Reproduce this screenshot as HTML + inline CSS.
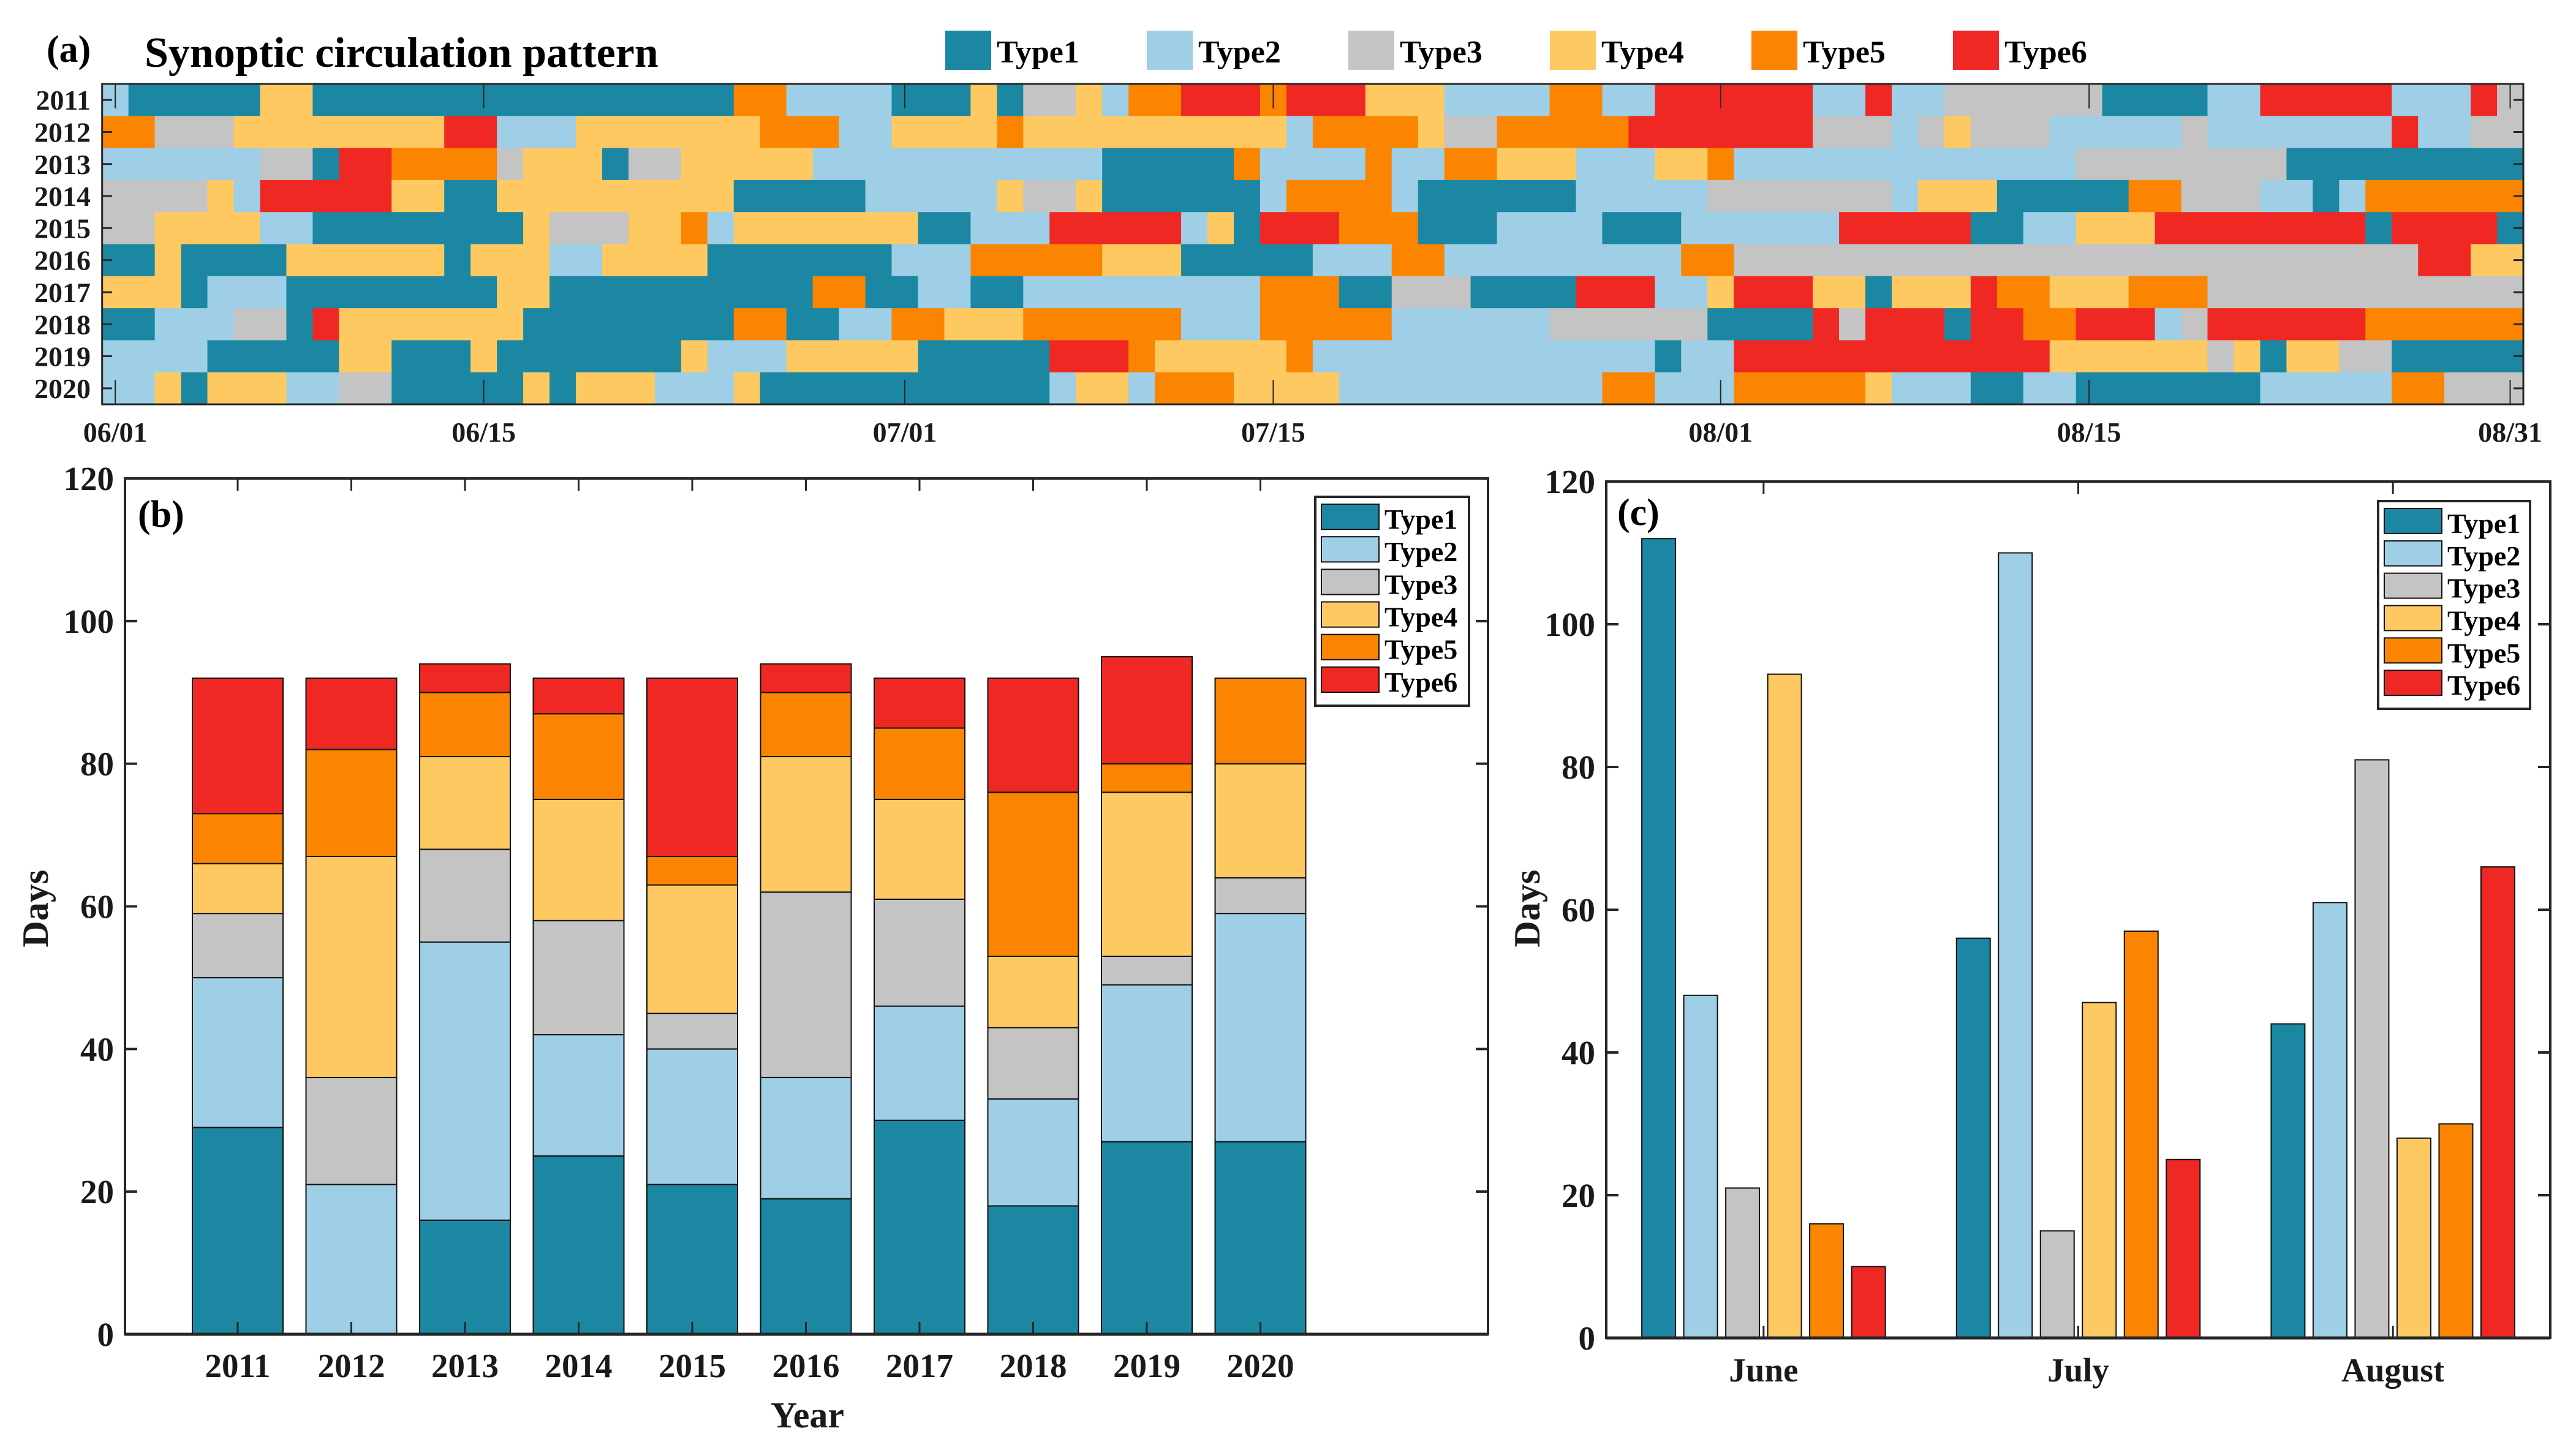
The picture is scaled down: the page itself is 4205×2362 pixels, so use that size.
<!DOCTYPE html>
<html><head><meta charset="utf-8"><style>
html,body{margin:0;padding:0;background:#fff;}
svg{display:block;font-family:"Liberation Serif",serif;font-weight:bold;}
</style></head><body>
<svg id="fig" width="4205" height="2362" viewBox="0 0 4205 2362" xmlns="http://www.w3.org/2000/svg">
<rect x="0" y="0" width="4205" height="2362" fill="#fff"/>
</svg>
<script>
// ---------- data ----------
const typeNames = ["Type1","Type2","Type3","Type4","Type5","Type6"];
const years = [2011,2012,2013,2014,2015,2016,2017,2018,2019,2020];
const dateTickDays = [0,14,30,44,61,75,91];
const dateTickLabels = ["06/01","06/15","07/01","07/15","08/01","08/15","08/31"];
// run-length encoded daily types [type, days] for each year (Jun 1 - Aug 31)
const runs2011 = [[2,1],[1,5],[4,2],[1,16],[5,2],[2,4],[1,3],[4,1],[1,1],[3,2],[4,1],[2,1],[5,2],[6,3],[5,1],[6,3],[4,3],[2,4],[5,2],[2,2],[6,6],[2,2],[6,1],[2,2],[3,6],[1,4],[2,2],[6,5],[2,3],[6,1],[3,1]];
const runs2012 = [[5,2],[3,3],[4,8],[6,2],[2,3],[4,7],[5,3],[2,2],[4,4],[5,1],[4,10],[2,1],[5,4],[4,1],[3,2],[5,5],[6,7],[3,3],[2,1],[3,1],[4,1],[3,3],[2,5],[3,1],[2,7],[6,1],[2,2],[3,2]];
const runs2013 = [[2,6],[3,2],[1,1],[6,2],[5,4],[3,1],[4,3],[1,1],[3,2],[4,5],[2,11],[1,5],[5,1],[2,4],[5,1],[2,2],[5,2],[4,3],[2,3],[4,2],[5,1],[2,13],[3,8],[1,9]];
const runs2014 = [[3,4],[4,1],[2,1],[6,5],[4,2],[1,2],[4,9],[1,5],[2,5],[4,1],[3,2],[4,1],[1,6],[2,1],[5,4],[2,1],[1,6],[2,5],[3,7],[2,1],[4,3],[1,5],[5,2],[3,3],[2,2],[1,1],[2,1],[5,6]];
const runs2015 = [[3,2],[4,4],[2,2],[1,8],[4,1],[3,3],[4,2],[5,1],[2,1],[4,7],[1,2],[2,3],[6,5],[2,1],[4,1],[1,1],[6,3],[5,3],[1,3],[2,4],[1,3],[2,6],[6,5],[1,2],[2,2],[4,3],[6,8],[1,1],[6,4],[1,1]];
const runs2016 = [[1,2],[4,1],[1,4],[4,6],[1,1],[4,3],[2,2],[4,4],[1,7],[2,3],[5,5],[4,3],[1,5],[2,3],[5,2],[2,9],[5,2],[3,26],[6,2],[4,2]];
const runs2017 = [[4,3],[1,1],[2,3],[1,8],[4,2],[1,10],[5,2],[1,2],[2,2],[1,2],[2,9],[5,3],[1,2],[3,3],[1,4],[6,3],[2,2],[4,1],[6,3],[4,2],[1,1],[4,3],[6,1],[5,2],[4,3],[5,3],[3,12]];
const runs2018 = [[1,2],[2,3],[3,2],[1,1],[6,1],[4,7],[1,8],[5,2],[1,2],[2,2],[5,2],[4,3],[5,6],[2,3],[5,5],[2,6],[3,6],[1,4],[6,1],[3,1],[6,3],[1,1],[6,2],[5,2],[6,3],[2,1],[3,1],[6,6],[5,6]];
const runs2019 = [[2,4],[1,5],[4,2],[1,3],[4,1],[1,7],[4,1],[2,3],[4,5],[1,5],[6,3],[5,1],[4,5],[5,1],[2,13],[1,1],[2,2],[6,12],[4,6],[3,1],[4,1],[1,1],[4,2],[3,2],[1,5]];
const runs2020 = [[2,2],[4,1],[1,1],[4,3],[2,2],[3,2],[1,5],[4,1],[1,1],[4,3],[2,3],[4,1],[1,11],[2,1],[4,2],[2,1],[5,3],[4,4],[2,10],[5,2],[2,3],[5,5],[4,1],[2,3],[1,2],[2,2],[1,7],[2,5],[5,2],[3,3]];
const yearRuns = [runs2011,runs2012,runs2013,runs2014,runs2015,runs2016,runs2017,runs2018,runs2019,runs2020];
// panel b: days per type per year
const bType1 = [29,0,16,25,21,19,30,18,27,27];
const bType2 = [21,21,39,17,19,17,16,15,22,32];
const bType3 = [9,15,13,16,5,26,15,10,4,5];
const bType4 = [7,31,13,17,18,19,14,10,23,16];
const bType5 = [7,15,9,12,4,9,10,23,4,12];
const bType6 = [19,10,4,5,25,4,7,16,15,0];
const bSeries = [bType1,bType2,bType3,bType4,bType5,bType6];
const yTicks = [0,20,40,60,80,100,120];
// panel c: days per type per month
const months = ["June","July","August"];
const cType1 = [112,56,44];
const cType2 = [48,110,61];
const cType3 = [21,15,81];
const cType4 = [93,47,28];
const cType5 = [16,57,30];
const cType6 = [10,25,66];
const cSeries = [cType1,cType2,cType3,cType4,cType5,cType6];

const colors = ["#1b87a3","#9ecfe7","#c4c4c4","#fec961","#fb8500","#f02824"];
const NS = "http://www.w3.org/2000/svg";
const svg = document.getElementById("fig");
function mk(tag, attrs, parent){
  const e = document.createElementNS(NS, tag);
  for (const k in attrs) e.setAttribute(k, attrs[k]);
  (parent||svg).appendChild(e);
  return e;
}
function txt(s, attrs, parent){ const e = mk("text", attrs, parent); e.textContent = s; return e; }

// ---------- panel a ----------
const aX0 = 166.7, aCell = 42.96, aY0 = 137, aRow = 52.3, aDays = 92;
const ax = d => aX0 + d*aCell;
const ay = r => aY0 + r*aRow;
const gA = mk("g", {});


yearRuns.forEach((runs, r) => {
  let d = 0;
  runs.forEach(([t, n]) => {
    const c = mk("rect", {x: ax(d), y: ay(r), width: n*aCell+0.6, height: aRow+0.6, fill: colors[t-1]}, gA);
    
    
    d += n;
  });
});
const aFrame = mk("rect", {x: aX0, y: aY0, width: aDays*aCell, height: 10*aRow, fill: "none", stroke: "#262626", "stroke-width": 3});


years.forEach((yr, r) => {
  const cy = ay(r) + aRow/2;
  mk("line", {x1: aX0, x2: aX0+16, y1: cy, y2: cy, stroke: "#262626", "stroke-width": 3});
  mk("line", {x1: aX0+aDays*aCell-16, x2: aX0+aDays*aCell, y1: cy, y2: cy, stroke: "#262626", "stroke-width": 3});
  const t = txt(String(yr), {x: 148, y: cy+16, "font-size": 46, "text-anchor": "end", fill: "#1a1a1a"});
  
  
});
dateTickDays.forEach((d, i) => {
  const cx = ax(d) + aCell/2;
  mk("line", {x1: cx, x2: cx, y1: aY0, y2: aY0+40, stroke: "#262626", "stroke-width": 2});
  mk("line", {x1: cx, x2: cx, y1: aY0+10*aRow-40, y2: aY0+10*aRow, stroke: "#262626", "stroke-width": 2});
  const t = txt(dateTickLabels[i], {x: cx, y: 721, "font-size": 46, "text-anchor": "middle", fill: "#1a1a1a"});
  
  
});
const aLab = txt("(a)", {x: 76, y: 101, "font-size": 62, fill: "#000"});


const aTitle = txt("Synoptic circulation pattern", {x: 236, y: 109, "font-size": 70, fill: "#000"});


// top legend
typeNames.forEach((nm, i) => {
  const lx = 1543 + i*329;
  const g = mk("g", {});
  
  
  mk("rect", {x: lx, y: 50, width: 75, height: 64, fill: colors[i]}, g);
  txt(nm, {x: lx+84, y: 102, "font-size": 52, fill: "#000"}, g);
});

// ---------- axis helper ----------
function axes(L, R, T, B, yScale, name){
  const g = mk("g", {});
  
  
  mk("rect", {x: L, y: T, width: R-L, height: B-T, fill: "none", stroke: "#262626", "stroke-width": 4}, g);
  yTicks.forEach(v => {
    const y = yScale(v);
    mk("line", {x1: L, x2: L+20, y1: y, y2: y, stroke: "#262626", "stroke-width": 4}, g);
    mk("line", {x1: R-20, x2: R, y1: y, y2: y, stroke: "#262626", "stroke-width": 4}, g);
    const t = txt(String(v), {x: L-18, y: y+19, "font-size": 55, "text-anchor": "end", fill: "#1a1a1a"}, g);
    
    
  });
  return g;
}
function legend(x, y, w, h, name){
  const g = mk("g", {});
  
  
  mk("rect", {x: x, y: y, width: w, height: h, fill: "#fff", stroke: "#262626", "stroke-width": 4}, g);
  const step = (h-22)/6;
  typeNames.forEach((nm, i) => {
    const e = mk("g", {}, g);
    
    
    mk("rect", {x: x+10, y: y+12+i*step, width: 94, height: step-12, fill: colors[i], stroke: "#111", "stroke-width": 2}, e);
    txt(nm, {x: x+113, y: y+12+i*step+40, "font-size": 46, fill: "#000"}, e);
  });
}

// ---------- panel b ----------
const bL = 204, bR = 2429, bT = 781, bB = 2178;
const bx = yr => 202.5 + (yr-2010)*185.5;
const by = v => bB - v*(bB-bT)/120;
axes(bL, bR, bT, bB, by, "panel-b-axes");
years.forEach((yr, i) => {
  let acc = 0;
  bSeries.forEach((s, k) => {
    const v = s[i];
    if (v > 0) {
      const r = mk("rect", {x: bx(yr)-74, y: by(acc+v), width: 148, height: by(acc)-by(acc+v), fill: colors[k], stroke: "#111", "stroke-width": 2});
      
      
    }
    acc += v;
  });
});
years.forEach(yr => {
  mk("line", {x1: bx(yr), x2: bx(yr), y1: bB, y2: bB-20, stroke: "#262626", "stroke-width": 3});
  mk("line", {x1: bx(yr), x2: bx(yr), y1: bT, y2: bT+20, stroke: "#262626", "stroke-width": 3});
  const t = txt(String(yr), {x: bx(yr), y: 2248, "font-size": 55, "text-anchor": "middle", fill: "#1a1a1a"});
  
  
});
mk("line", {x1: bL, x2: bR, y1: bB, y2: bB, stroke: "#262626", "stroke-width": 5});
const bXT = txt("Year", {x: 1318, y: 2330, "font-size": 60, "text-anchor": "middle", fill: "#1a1a1a"});


const bYT = txt("Days", {x: 0, y: 0, "font-size": 60, "text-anchor": "middle", fill: "#1a1a1a", transform: "translate(78,1483) rotate(-90)"});


const bLab = txt("(b)", {x: 225, y: 860, "font-size": 62, fill: "#000"});


legend(2147, 811, 251, 341, "panel-b-legend");

// ---------- panel c ----------
const cL = 2622, cR = 4163, cT = 786, cB = 2184;
const cx = m => cL + (m-0.5)*(cR-cL)/3;
const cy = v => cB - v*(cB-cT)/120;
axes(cL, cR, cT, cB, cy, "panel-c-axes");
months.forEach((mn, i) => {
  cSeries.forEach((s, k) => {
    const v = s[i];
    const xc = cx(i+1) + (k-2.5)*68.5;
    const r = mk("rect", {x: xc-27.5, y: cy(v), width: 55, height: cy(0)-cy(v), fill: colors[k], stroke: "#111", "stroke-width": 2});
    
    
  });
  mk("line", {x1: cx(i+1), x2: cx(i+1), y1: cB, y2: cB-20, stroke: "#262626", "stroke-width": 3});
  mk("line", {x1: cx(i+1), x2: cx(i+1), y1: cT, y2: cT+20, stroke: "#262626", "stroke-width": 3});
  const t = txt(mn, {x: cx(i+1), y: 2255, "font-size": 55, "text-anchor": "middle", fill: "#1a1a1a"});
  
  
});
mk("line", {x1: cL, x2: cR, y1: cB, y2: cB, stroke: "#262626", "stroke-width": 5});
const cYT = txt("Days", {x: 0, y: 0, "font-size": 60, "text-anchor": "middle", fill: "#1a1a1a", transform: "translate(2513,1483) rotate(-90)"});


const cLab = txt("(c)", {x: 2640, y: 857, "font-size": 62, fill: "#000"});


legend(3882, 818, 248, 339, "panel-c-legend");
</script>
</body></html>
